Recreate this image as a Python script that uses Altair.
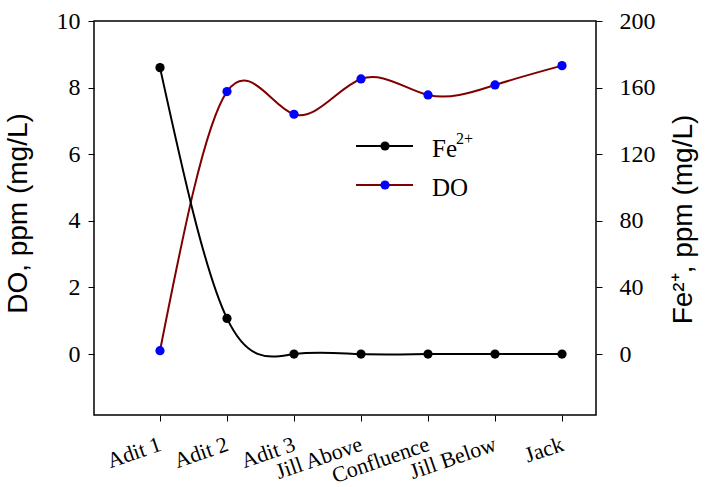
import altair as alt
import pandas as pd

# Sampling sites along the drainage
sites = ["Adit 1", "Adit 2", "Adit 3", "Jill Above", "Confluence", "Jill Below", "Jack"]
# Dissolved oxygen, ppm (mg/L)
do_ppm = [0.1, 7.88, 7.2, 8.26, 7.78, 8.08, 8.66]
# Ferrous iron, ppm (mg/L)
fe_ppm = [172, 21.4, 0, 0, 0, 0, 0]

legend_names = ["Fe", "DO"]
legend_line_colors = ["#000000", "#800000"]
legend_dot_colors = ["#000000", "#0000ff"]

df = pd.DataFrame({"site": sites, "DO": do_ppm, "Fe": fe_ppm})

SERIF = "Liberation Serif"
SANS = "Liberation Sans"

x_enc = alt.X(
    "site:N",
    sort=sites,
    scale=alt.Scale(type="point", range=[66, 468], padding=0),
    axis=alt.Axis(
        title=None, domain=False, labelAngle=341, labelAlign="right",
        labelBaseline="middle", labelFont=SERIF, labelFontSize=22,
        labelColor="black", tickColor="black", tickSize=6, labelPadding=22,
        tickWidth=1,
    ),
)

base = alt.Chart(df)

do_y = alt.Y(
    "DO:Q",
    scale=alt.Scale(domain=[-1.83, 10], nice=False, zero=False),
    axis=alt.Axis(
        title="DO, ppm (mg/L)", values=[0, 2, 4, 6, 8, 10], grid=False,
        domain=False, labelFont=SERIF, labelFontSize=24, labelColor="black",
        tickColor="black", tickSize=6, labelPadding=8, titleFont=SANS,
        titleFontSize=28, titleFontWeight="normal", titleColor="black",
        titleAngle=270, titleBaseline="alphabetic", titleAlign="center",
        titleX=-68, titleY=192,
    ),
)

fe_y = alt.Y(
    "Fe:Q",
    scale=alt.Scale(domain=[-36.6, 200], nice=False, zero=False),
    axis=alt.Axis(
        orient="right", title="Fe²⁺, ppm (mg/L)",
        values=[0, 40, 80, 120, 160, 200], grid=False, domain=False,
        labelFont=SERIF, labelFontSize=24, labelColor="black",
        tickColor="black", tickSize=6, labelPadding=17, titleFont=SANS,
        titleFontSize=28, titleFontWeight="normal", titleColor="black",
        titleAngle=270, titleBaseline="alphabetic", titleAlign="center",
        titleX=95, titleY=198,
    ),
)

do_line = base.mark_line(interpolate="natural", color="#800000", strokeWidth=2).encode(x=x_enc, y=do_y)
do_pts = base.mark_point(filled=True, size=85, color="#0000ff", opacity=1).encode(x=x_enc, y=do_y)
fe_line = base.mark_line(interpolate="natural", color="#000000", strokeWidth=2).encode(x=x_enc, y=fe_y)
fe_pts = base.mark_point(filled=True, size=85, color="#000000", opacity=1).encode(x=x_enc, y=fe_y)

do_layer = alt.layer(do_line, do_pts)
fe_layer = alt.layer(fe_line, fe_pts)

# Legend drawn inside the plot area
leg = pd.DataFrame({
    "name": legend_names,
    "line": legend_line_colors,
    "dot": legend_dot_colors,
    "row": [0, 1],
})
leg_base = alt.Chart(leg)
leg_y = alt.Y("row:O", scale=alt.Scale(type="point", range=[125, 164], padding=0), axis=None)
leg_lines = leg_base.mark_rule(strokeWidth=2).encode(
    x=alt.value(262), x2=alt.value(319), y=leg_y,
    color=alt.Color("line:N", scale=None),
)
leg_dots = leg_base.mark_point(filled=True, size=85, opacity=1).encode(
    x=alt.value(291), y=leg_y, color=alt.Color("dot:N", scale=None),
)
leg_text = leg_base.mark_text(
    align="left", baseline="middle", font=SERIF, fontSize=25, color="black", dy=3
).encode(x=alt.value(338), y=leg_y, text="name:N")
leg_sup = alt.Chart(pd.DataFrame({"t": ["2+"]})).mark_text(
    align="left", baseline="middle", font=SERIF, fontSize=16, color="black"
).encode(x=alt.value(362), y=alt.value(118), text="t:N")

legend = alt.layer(leg_lines, leg_dots, leg_text, leg_sup)

chart = alt.layer(do_layer, fe_layer, legend).resolve_scale(
    y="independent"
).properties(
    width=502, height=394,
    padding={"left": 94, "top": 21, "right": 117, "bottom": 72},
    autosize=alt.AutoSizeParams(type="none"),
).configure(
    background="white"
).configure_view(
    stroke="black", strokeWidth=1.5
)

chart.save("out.html", embed_options={"renderer": "svg", "actions": False})
